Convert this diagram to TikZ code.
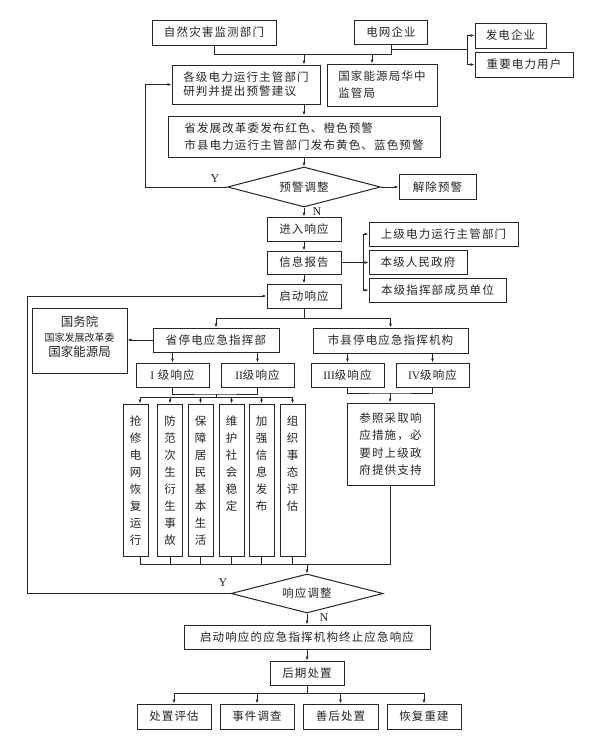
\documentclass[tikz,border=0pt]{standalone}
\usepackage{fontspec}
\setmainfont{Liberation Serif}
\newfontfamily\cjk[LetterSpace=10]{Noto Sans CJK SC}
\newfontfamily\cjkn{Noto Sans CJK SC}
\usetikzlibrary{shapes.geometric,arrows.meta}
\tikzset{
 bx/.style={draw=black!85, line width=1pt, inner sep=0pt, text=black!85, font=\cjk\fontsize{11.5}{14}\selectfont},
 wh/.style 2 args={minimum width=#1pt, minimum height=#2pt},
 dm/.style={bx, diamond, shape aspect=3.8},
 ln/.style={draw=black!85, line width=0.75pt},
 ar/.style={ln, -{Latex[length=4pt,width=3pt]}},
 txt/.style={inner sep=0pt, text=black!85},
 lbl/.style={txt, font=\fontsize{12}{12}\selectfont},
 tb/.style={bx, wh={25}{152}},
 vt/.style={txt, font=\cjk\fontsize{11.5}{17}\selectfont, align=center, anchor=north},
}
\begin{document}
\begin{tikzpicture}[x=1pt,y=-1pt]
\useasboundingbox[fill=white] (0,0) rectangle (596,744);
% top
\node[bx,wh={124}{25}] (zr) at (214,32.5) {自然灾害监测部门};
\node[bx,wh={73}{24}] (dw) at (391,32) {电网企业};
\node[bx,wh={71}{25}] (fd) at (510.5,35.5) {发电企业};
\node[bx,wh={98}{25}] (zy) at (524,64.5) {重要电力用户};
\node[bx,wh={148}{39},align=left,font=\cjk\fontsize{11.5}{14}\selectfont] (gj) at (246,84.5) {各级电力运行主管部门\\研判并提出预警建议};
\node[bx,wh={110}{42},align=left,font=\cjk\fontsize{11.5}{17}\selectfont] (nyj) at (382,85) {国家能源局华中\\监管局};
\node[bx,wh={272}{41},align=left,font=\cjk\fontsize{11.5}{17}\selectfont] (sfg) at (304,136.5) {省发展改革委发布红色、橙色预警\\市县电力运行主管部门发布黄色、蓝色预警};
\node[dm,wh={153}{40}] (d1) at (304,187) {预警调整};
\node[bx,wh={77}{25}] (jc) at (437.5,187) {解除预警};
\node[bx,wh={74}{24}] (jr) at (304,229) {进入响应};
\node[bx,wh={74}{23}] (xx) at (304,262.5) {信息报告};
\node[bx,wh={74}{24}] (qd) at (304,296) {启动响应};
\node[bx,wh={149}{24}] (sj) at (443.5,234) {上级电力运行主管部门};
\node[bx,wh={98}{24}] (bj) at (418,262) {本级人民政府};
\node[bx,wh={137}{24}] (zh) at (437.5,290) {本级指挥部成员单位};
% middle
\node[bx,wh={95}{65}] (gwy) at (79.5,340.5) {};
\node[txt,font=\cjkn\fontsize{12.5}{12.5}\selectfont] (g1) at (79.5,322) {国务院};
\node[txt,font=\cjkn\fontsize{10}{10}\selectfont] (g2) at (79.5,338) {国家发展改革委};
\node[txt,font=\cjkn\fontsize{12.5}{12.5}\selectfont] (g3) at (79.5,352) {国家能源局};
\node[bx,wh={126}{24}] (stj) at (216,340) {省停电应急指挥部};
\node[bx,wh={155}{25}] (sx) at (390.5,340.5) {市县停电应急指挥机构};
\node[bx,wh={73}{24}] (r1) at (172.5,375) {{\rmfamily I}\ 级响应};
\node[bx,wh={73}{24}] (r2) at (257.5,375) {{\rmfamily II}级响应};
\node[bx,wh={73}{24}] (r3) at (347.5,375) {{\rmfamily III}级响应};
\node[bx,wh={73}{24}] (r4) at (432.5,375) {{\rmfamily IV}级响应};
\node[bx,wh={87}{82},align=center,font=\cjk\fontsize{11.5}{17.3}\selectfont] (cz) at (390.5,444) {参照采取响\\应措施，必\\要时上级政\\府提供支持};
\node[tb] (t1) at (135.5,480) {};
\node[tb] (t2) at (170,480) {};
\node[tb] (t3) at (200.5,480) {};
\node[tb] (t4) at (231.5,480) {};
\node[tb] (t5) at (261.5,480) {};
\node[tb] (t6) at (292.5,480) {};
\node[vt] (t1x) at ([yshift=-12.5pt]t1.north) {抢\\修\\电\\网\\恢\\复\\运\\行};
\node[vt] (t2x) at ([yshift=-12.5pt]t2.north) {防\\范\\次\\生\\衍\\生\\事\\故};
\node[vt] (t3x) at ([yshift=-12.5pt]t3.north) {保\\障\\居\\民\\基\\本\\生\\活};
\node[vt] (t4x) at ([yshift=-12.5pt]t4.north) {维\\护\\社\\会\\稳\\定};
\node[vt] (t5x) at ([yshift=-12.5pt]t5.north) {加\\强\\信\\息\\发\\布};
\node[vt] (t6x) at ([yshift=-12.5pt]t6.north) {组\\织\\事\\态\\评\\估};
% bottom
\node[dm,wh={152}{39}] (d2) at (307,593.5) {响应调整};
\node[bx,wh={246}{24}] (zz) at (307,637) {启动响应的应急指挥机构终止应急响应};
\node[bx,wh={74}{24}] (hq) at (307,673) {后期处置};
\node[bx,wh={74}{25}] (b1) at (174,716.5) {处置评估};
\node[bx,wh={74}{25}] (b2) at (257,716.5) {事件调查};
\node[bx,wh={75}{25}] (b3) at (340.5,716.5) {善后处置};
\node[bx,wh={74}{25}] (b4) at (424,716.5) {恢复重建};
% connectors top
\coordinate (j1) at (304,54);
\coordinate (j2) at (372,54);
\coordinate (j3) at (467,49);
\draw[ln] (zr.south) |- (j1);
\draw[ln] (dw.south) |- (j1);
\draw[ar] (j1) -- (j1 |- gj.north);
\draw[ar] (j2) -- (j2 |- nyj.north);
\draw[ln] (dw.south |- j3) -- (j3);
\draw[ar] (j3) |- (fd.west);
\draw[ar] (j3) |- (zy.west);
\draw[ar] (sfg.north |- gj.south) -- (sfg.north);
\draw[ar] (sfg.south) -- (d1.north);
\draw[ar] (d1.west) -- ++(-82,0) |- (gj.west);
\node[lbl] (y1) at (215,179) {Y};
\draw[ar] (d1.east) -- (jc.west);
\draw[ar] (d1.south) -- (jr.north);
\node[lbl] (n1) at (317,212) {N};
\draw[ar] (jr.south) -- (xx.north);
\draw[ar] (xx.south) -- (qd.north);
\coordinate (j4) at (363,262.5);
\draw[ar] (xx.east) -- (xx.east -| bj.west);
\draw[ar] (j4) |- (sj.west);
\draw[ar] (j4) |- (zh.west);
% middle connectors
\coordinate (j5) at (304,318);
\draw[ln] (qd.south) -- (j5);
\draw[ar] (j5) -| (stj.north);
\draw[ar] (j5) -| (sx.north);
\draw[ar] (stj.west) -- (stj.west -| gwy.east);
\draw[ar] (r1.north |- stj.south) -- (r1.north);
\draw[ar] (r2.north |- stj.south) -- (r2.north);
\draw[ar] (r3.north |- sx.south) -- (r3.north);
\draw[ar] (r4.north |- sx.south) -- (r4.north);
\coordinate (k1) at (216,394);
\coordinate (k2) at (216,397.5);
\coordinate (k3) at (140,397.5);
\coordinate (k4) at (293,397.5);
\draw[ln] (r1.south) |- (k1) -| (r2.south);
\draw[ln] (k1) -- (k2);
\draw[ln] (k3) -- (k4);
\draw[ar] (k3) -- (k3 |- t1.north);
\foreach \i in {2,...,6} \draw[ar] (t\i.north |- k3) -- (t\i.north);
\coordinate (k5) at (390,393);
\draw[ln] (r3.south) |- (k5) -| (r4.south);
\draw[ar] (k5) -- (k5 |- cz.north);
\coordinate (m) at (307,564);
\draw[ln] (k3 |- t1.south) -- (k3 |- m) -- (cz.south |- m) -- (cz.south);
\foreach \i in {2,...,6} \draw[ln] (t\i.south) -- (t\i.south |- m);
\draw[ar] (m) -- (d2.north);
\draw[ar] (d2.west) -- ++(-203,0) |- (qd.west);
\node[lbl] (y2) at (223,583) {Y};
\node[lbl] (n2) at (324,618) {N};
\draw[ar] (d2.south) -- (zz.north);
\draw[ar] (zz.south) -- (hq.north);
\coordinate (p) at (307,693);
\draw[ln] (hq.south) -- (p);
\foreach \i in {1,...,4} \draw[ar] (p) -| (b\i.north);
\end{tikzpicture}
\end{document}
